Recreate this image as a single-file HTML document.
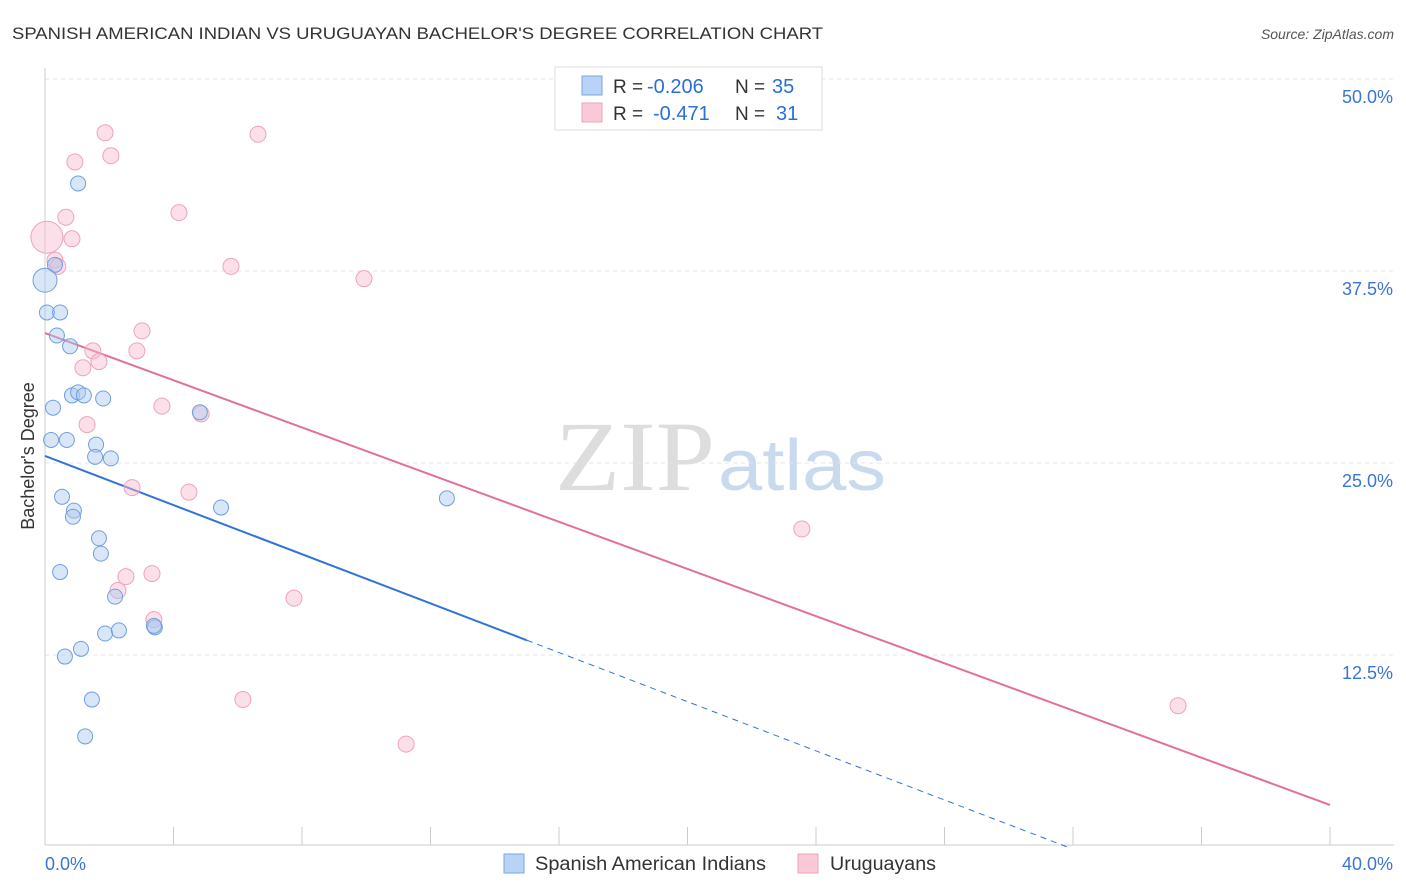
<!DOCTYPE html>
<html><head><meta charset="utf-8">
<style>
body{margin:0;background:#fff;font-family:"Liberation Sans",sans-serif;}
svg{display:block}
</style></head>
<body>
<svg id="chart" width="1406" height="892">
<text x="12" y="39" font-size="17" fill="#333" textLength="811" lengthAdjust="spacingAndGlyphs">SPANISH AMERICAN INDIAN VS URUGUAYAN BACHELOR'S DEGREE CORRELATION CHART</text>
<text x="1394" y="39" font-size="14" fill="#555" font-style="italic" text-anchor="end">Source: ZipAtlas.com</text>
<text x="555" y="490" font-size="100" fill="#ddd" font-family="Liberation Serif,serif" textLength="160" lengthAdjust="spacingAndGlyphs">ZIP</text>
<text x="718" y="490" font-size="72" fill="#c9d9ee" textLength="168" lengthAdjust="spacingAndGlyphs">atlas</text>
<g id="grid"></g>
<g id="axes"></g>
<g id="lines"></g>
<g id="points"></g>
<text transform="translate(34,456) rotate(-90)" font-size="18" fill="#333" text-anchor="middle">Bachelor's Degree</text>
<g>
<rect x="555" y="67" width="267" height="63" fill="#fff" stroke="#ddd"/>
<rect x="582" y="76" width="20" height="19" fill="#b8d3f5" stroke="#7aa7e0"/>
<rect x="582" y="103" width="20" height="19" fill="#fac8d6" stroke="#eea3ba"/>
<text x="613" y="93" font-size="19" fill="#333">R =</text>
<text x="647" y="93" font-size="20" fill="#2a6fd6">-0.206</text>
<text x="735" y="93" font-size="19" fill="#333">N =</text>
<text x="772" y="93" font-size="20" fill="#2a6fd6">35</text>
<text x="613" y="120" font-size="19" fill="#333">R =</text>
<text x="653" y="120" font-size="20" fill="#2a6fd6">-0.471</text>
<text x="735" y="120" font-size="19" fill="#333">N =</text>
<text x="776" y="120" font-size="20" fill="#2a6fd6">31</text>
</g>
<g>
<rect x="504" y="854" width="20" height="19" fill="#b8d3f5" stroke="#7aa7e0"/>
<text x="535" y="870" font-size="19" fill="#333" textLength="231" lengthAdjust="spacingAndGlyphs">Spanish American Indians</text>
<rect x="798" y="854" width="20" height="19" fill="#fac8d6" stroke="#eea3ba"/>
<text x="830" y="870" font-size="19" fill="#333" textLength="106" lengthAdjust="spacingAndGlyphs">Uruguayans</text>
</g>
</svg>
<script>
const blueX=[1.03,0.31,0,0.06,0.47,0.37,0.78,0.25,0.84,1.03,1.21,1.81,0.19,0.68,1.59,1.56,2.05,4.82,0.53,0.9,0.87,5.48,12.51,1.68,1.74,0.47,2.18,1.87,2.3,3.42,3.39,1.12,0.62,1.46,1.25];
const blueY=[43.2,37.9,36.9,34.8,34.8,33.3,32.6,28.6,29.4,29.6,29.4,29.2,26.5,26.5,26.2,25.4,25.3,28.3,22.8,21.9,21.5,22.1,22.7,20.1,19.1,17.9,16.3,13.9,14.1,14.3,14.4,12.9,12.4,9.6,7.2];
const pinkX=[1.87,6.63,0.93,2.05,0.65,4.17,0.06,0.84,0.31,0.4,5.79,9.93,3.02,1.49,2.86,1.68,1.18,3.64,4.86,1.31,2.71,4.48,23.56,2.52,3.33,2.27,7.75,3.39,6.16,11.24,35.27];
const pinkY=[46.5,46.4,44.6,45.0,41.0,41.3,39.7,39.6,38.2,37.8,37.8,37.0,33.6,32.3,32.3,31.6,31.2,28.7,28.2,27.5,23.4,23.1,20.7,17.6,17.8,16.7,16.2,14.8,9.6,6.7,9.2];
const blueTrend=[25.46,-0.8];
const pinkTrend=[33.46,-0.768];
const yTicks=[12.5,25,37.5,50];
const xTickCount=11;
const sx=v=>45+v*32.125, sy=v=>847-v*15.36;
const NS="http://www.w3.org/2000/svg";
function mk(t,a,p){const e=document.createElementNS(NS,t);for(const k in a)e.setAttribute(k,a[k]);p.appendChild(e);return e;}
const grid=document.getElementById('grid'),axes=document.getElementById('axes'),lines=document.getElementById('lines'),pts=document.getElementById('points');
yTicks.forEach(t=>{
 const l=mk('line',{x1:45,x2:1394,y1:sy(t),y2:sy(t),stroke:'#e4e4e4','stroke-dasharray':'4,4'},grid);
 
 
 const tx=mk('text',{x:1393,y:sy(t)+24,'font-size':18,fill:'#3a76d0','text-anchor':'end'},axes);
 tx.textContent=t.toFixed(1)+'%';
 
 
});
mk('line',{x1:45,x2:45,y1:68,y2:845,stroke:'#ccc'},axes);
mk('line',{x1:45,x2:1394,y1:845,y2:845,stroke:'#ccc'},axes);
for(let i=0;i<xTickCount;i++){const x=sx(i*4);const l=mk('line',{x1:x,x2:x,y1:827,y2:845,stroke:'#ccc'},axes);}
const x0=mk('text',{x:45,y:870,'font-size':18,fill:'#3a76d0'},axes);x0.textContent='0.0%';


const x1=mk('text',{x:1393,y:870,'font-size':18,fill:'#3a76d0','text-anchor':'end'},axes);x1.textContent='40.0%';


const bEnd=15, bZero=-blueTrend[0]/blueTrend[1];
let t1=mk('line',{x1:sx(0),y1:sy(blueTrend[0]),x2:sx(bEnd),y2:sy(blueTrend[0]+blueTrend[1]*bEnd),stroke:'#2f74d8','stroke-width':2},lines);


let t2=mk('line',{x1:sx(bEnd),y1:sy(blueTrend[0]+blueTrend[1]*bEnd),x2:sx(bZero),y2:sy(0),stroke:'#2f74d8','stroke-width':1,'stroke-dasharray':'6,5'},lines);


let t3=mk('line',{x1:sx(0),y1:sy(pinkTrend[0]),x2:sx(40),y2:sy(pinkTrend[0]+pinkTrend[1]*40),stroke:'#e2709a','stroke-width':2},lines);


pinkX.forEach((x,i)=>{const c=mk('circle',{cx:sx(x),cy:sy(pinkY[i]),r:i==6?16:8,fill:'rgba(248,187,207,0.45)',stroke:'#eea3ba','stroke-width':1},pts);
 
 });
blueX.forEach((x,i)=>{const c=mk('circle',{cx:sx(x),cy:sy(blueY[i]),r:i==2?12:7.5,fill:'rgba(170,200,240,0.45)',stroke:'#6f9fe0','stroke-width':1},pts);
 
 });
</script>
</body></html>
